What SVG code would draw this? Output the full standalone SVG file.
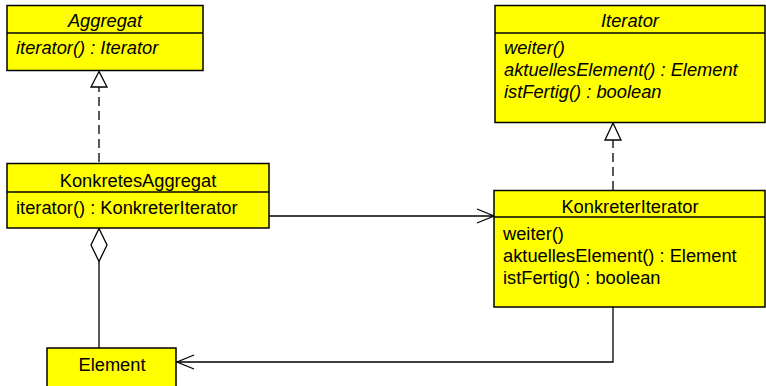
<svg xmlns="http://www.w3.org/2000/svg" width="766" height="386" viewBox="0 0 766 386">
<style>
.box{fill:#ffff00;stroke:#000;stroke-width:1.5}
.div{stroke:#000;stroke-width:1.5}
.t{font-family:"Liberation Sans",Arial,sans-serif;font-size:18.3px;fill:#000}
.i{font-style:italic}
.c{text-anchor:middle}
.ln{fill:none;stroke:#000;stroke-width:1.3}
.dash{stroke-dasharray:9 5}
.hd{fill:#fff;stroke:#000;stroke-width:1.3}
</style>
<rect width="766" height="386" fill="#fff"/>
<g id="connectors">
<line class="ln dash" x1="99" y1="162" x2="99" y2="87"/>
<polygon class="hd" points="99,71.5 91,87 107,87"/>
<line class="ln dash" x1="613" y1="190" x2="613" y2="140"/>
<polygon class="hd" points="613,123 605,140 621,140"/>
<line class="ln" x1="269" y1="216" x2="494" y2="216"/>
<polyline class="ln" points="477,209 494,216 477,223"/>
<polygon class="hd" points="99,228.5 91,245 99,261.5 107,245"/>
<line class="ln" x1="99" y1="261.5" x2="99" y2="348"/>
<polyline class="ln" points="613,307 613,362 176,362"/>
<polyline class="ln" points="194,355 177,362 194,369"/>
</g>
<g id="Aggregat">
<rect class="box" x="7" y="5.5" width="196" height="65"/>
<line class="div" x1="7" y1="33" x2="203" y2="33"/>
<text class="t i c" x="105" y="27">Aggregat</text>
<text class="t i" x="16" y="54">iterator() : Iterator</text>
</g>
<g id="Iterator">
<rect class="box" x="495" y="5.5" width="270" height="117"/>
<line class="div" x1="495" y1="33" x2="765" y2="33"/>
<text class="t i c" x="630" y="27">Iterator</text>
<text class="t i" x="504" y="54">weiter()</text>
<text class="t i" x="504" y="76">aktuellesElement() : Element</text>
<text class="t i" x="504" y="98">istFertig() : boolean</text>
</g>
<g id="KonkretesAggregat">
<rect class="box" x="7" y="163.5" width="262" height="64.5"/>
<line class="div" x1="7" y1="192" x2="269" y2="192"/>
<text class="t c" x="138" y="187">KonkretesAggregat</text>
<text class="t" x="16" y="214">iterator() : KonkreterIterator</text>
</g>
<g id="KonkreterIterator">
<rect class="box" x="494" y="190.5" width="271" height="116.5"/>
<line class="div" x1="494" y1="217" x2="765" y2="217"/>
<text class="t c" x="630" y="213">KonkreterIterator</text>
<text class="t" x="503" y="240">weiter()</text>
<text class="t" x="503" y="262">aktuellesElement() : Element</text>
<text class="t" x="503" y="284">istFertig() : boolean</text>
</g>
<g id="Element">
<rect class="box" x="47" y="348" width="129" height="40"/>
<text class="t c" x="112" y="371">Element</text>
</g>
</svg>
